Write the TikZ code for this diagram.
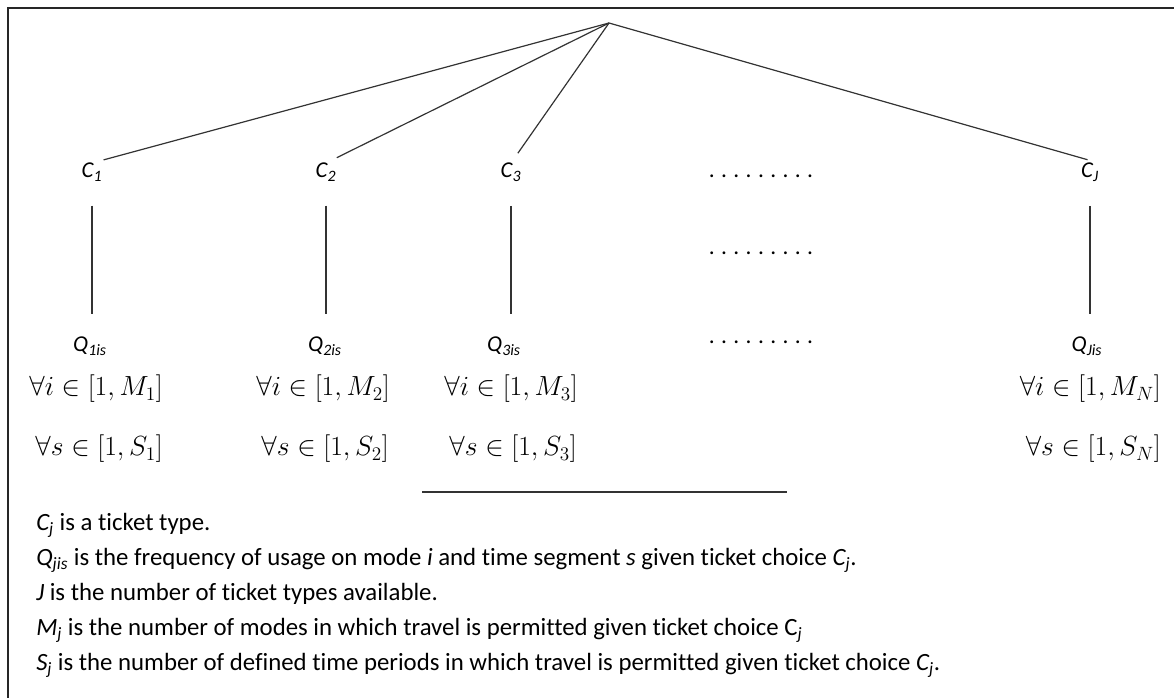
\documentclass[tikz,border=0pt]{standalone}
\usepackage{fontspec}
\setmainfont{Carlito}[Ligatures = {NoCommon, NoRequired}]
\usetikzlibrary{positioning}

\newcommand{\dotrow}{.\kern4.8pt.\kern4.8pt.\kern4.8pt.\kern4.8pt.\kern4.8pt.\kern4.8pt.\kern4.8pt.\kern4.8pt.}
\newcommand{\tick}[1]{\textit{#1\textsubscript{j}}}

\begin{document}
\begin{tikzpicture}[
    x = 0.75pt, y = -0.75pt, % one unit is one pixel of the page
    every node/.style = {inner sep = 0pt},
    treeline/.style = {draw = black!80, line width = 0.9pt},
    choice/.style = {font = \fontsize{17}{19}\selectfont\itshape, anchor = base},
    bounds/.style = {font = \fontsize{19.5}{22}\selectfont, anchor = east},
    dots/.style = {font = \fontsize{17.5}{20}\selectfont},
    note/.style = {font = \fontsize{18.6}{21}\selectfont, anchor = base west}
    ]

    \useasboundingbox (0,0) rectangle (1174,698);
    \draw[black!85, line width = 1.8pt] (8,698) -- (8,8) -- (1174,8);

    % root and ticket choices
    \coordinate (apex) at (609,23);
    \node[choice] (c1) at (92,178) {C\textsubscript{1}};
    \node[choice] (c2) at (326,178) {C\textsubscript{2}};
    \node[choice] (c3) at (511,178) {C\textsubscript{3}};
    \node[choice] (cJ) at (1090,178) {C\textsubscript{J}};

    \draw[treeline, shorten >= 9pt] (apex) -- (c1.north);
    \draw[treeline, shorten >= 9pt] (apex) -- (c2.north);
    \draw[treeline, shorten >= 9pt] (apex) -- (c3.north);
    \draw[treeline, shorten >= 9pt] (apex) -- (cJ.north east);

    % usage frequencies
    \node[choice] (q1) at (90,352) {Q\textsubscript{1is}};
    \node[choice] (q2) at (325,352) {Q\textsubscript{2is}};
    \node[choice] (q3) at (504,352) {Q\textsubscript{3is}};
    \node[choice] (qJ) at (1087,352) {Q\textsubscript{Jis}};

    \draw[treeline, shorten <= 18pt, shorten >= 17pt] (c1.south) -- (c1.south |- q1.north);
    \draw[treeline, shorten <= 18pt, shorten >= 17pt] (c2.south) -- (c2.south |- q2.north);
    \draw[treeline, shorten <= 18pt, shorten >= 17pt] (c3.south) -- (c3.south |- q3.north);
    \draw[treeline, shorten <= 18pt, shorten >= 17pt] (cJ.south) -- (cJ.south |- qJ.north);

    % ranges of modes and time segments
    \node[bounds] (m1) at (163,389) {$\forall i \in [1, M_1]$};
    \node[bounds] (m2) at (390,389) {$\forall i \in [1, M_2]$};
    \node[bounds] (m3) at (578,389) {$\forall i \in [1, M_3]$};
    \node[bounds] (mN) at (1161,389) {$\forall i \in [1, M_N]$};
    \node[bounds] (s1) at (163,449) {$\forall s \in [1, S_1]$};
    \node[bounds] (s2) at (389,449) {$\forall s \in [1, S_2]$};
    \node[bounds] (s3) at (577,449) {$\forall s \in [1, S_3]$};
    \node[bounds] (sN) at (1161,449) {$\forall s \in [1, S_N]$};

    % omitted choices
    \node[dots] (d1) at (761,176) {\dotrow};
    \node[dots] (d2) at (761,253) {\dotrow};
    \node[dots] (d3) at (761,342) {\dotrow};

    \coordinate (rulestart) at (422,492);
    \coordinate (ruleend) at (787,492);
    \draw[black!80, line width = 1.2pt] (rulestart) -- (ruleend);

    % legend
    \node[note] (n1) at (36,530) {\tick{C} is a ticket type.};
    \node[note] (n2) at (36,565) {\textit{Q\textsubscript{jis}} is the frequency of usage on mode \textit{i} and time segment \textit{s} given ticket choice \tick{C}.};
    \node[note] (n3) at (36,600) {\textit{J} is the number of ticket types available.};
    \node[note] (n4) at (36,635) {\tick{M} is the number of modes in which travel is permitted given ticket choice C\textsubscript{\textit{j}}};
    \node[note] (n5) at (36,670) {\tick{S} is the number of defined time periods in which travel is permitted given ticket choice \tick{C}.};
\end{tikzpicture}
\end{document}
